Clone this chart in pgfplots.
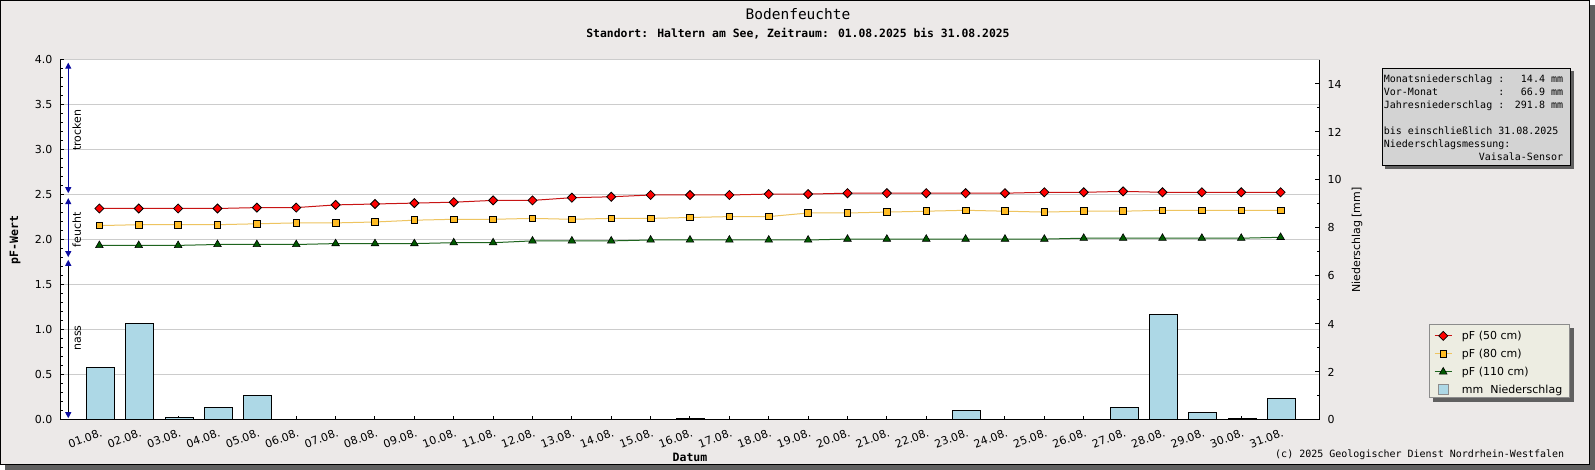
\documentclass[border=0pt]{standalone}
\usepackage{fontspec}
\setmainfont{DejaVu Sans}
\newfontfamily\mono{DejaVu Sans Mono}
\usepackage{pgfplots}
\usepackage{pgfplotstable}
\pgfplotsset{compat=1.18}
\usetikzlibrary{arrows.meta}
\definecolor{bg}{RGB}{236,233,232}
\definecolor{shadowgray}{RGB}{96,96,96}
\definecolor{gridgray}{RGB}{204,204,204}
\definecolor{infobg}{RGB}{211,211,211}
\definecolor{legbg}{RGB}{237,237,226}
\definecolor{legborder}{RGB}{140,140,140}
\definecolor{barblue}{RGB}{173,216,230}
\definecolor{redline}{RGB}{200,20,20}
\definecolor{redmark}{RGB}{255,0,0}
\definecolor{yelline}{RGB}{238,196,96}
\definecolor{yelmark}{RGB}{255,188,36}
\definecolor{grnline}{RGB}{30,100,30}
\definecolor{grnmark}{RGB}{0,90,0}
\definecolor{navyarrow}{RGB}{10,10,160}

\pgfplotstableread{
day p50 p80 p110
1 2.35 2.16 1.94
2 2.35 2.17 1.94
3 2.35 2.17 1.94
4 2.35 2.17 1.95
5 2.36 2.18 1.95
6 2.36 2.19 1.95
7 2.39 2.19 1.96
8 2.40 2.20 1.96
9 2.41 2.22 1.96
10 2.42 2.23 1.97
11 2.44 2.23 1.97
12 2.44 2.24 1.99
13 2.47 2.23 1.99
14 2.48 2.24 1.99
15 2.50 2.24 2.00
16 2.50 2.25 2.00
17 2.50 2.26 2.00
18 2.51 2.26 2.00
19 2.51 2.30 2.00
20 2.52 2.30 2.01
21 2.52 2.31 2.01
22 2.52 2.32 2.01
23 2.52 2.33 2.01
24 2.52 2.32 2.01
25 2.53 2.31 2.01
26 2.53 2.32 2.02
27 2.54 2.32 2.02
28 2.53 2.33 2.02
29 2.53 2.33 2.02
30 2.53 2.33 2.02
31 2.53 2.33 2.03
}\pfdata

\pgfplotstableread{
day mm
1 2.2
2 4.0
3 0.1
4 0.5
5 1.0
16 0.05
23 0.4
27 0.5
28 4.4
29 0.3
30 0.05
31 0.9
}\raindata

\newcommand{\tfont}{\fontsize{11}{13}\selectfont}

\begin{document}
\begin{tikzpicture}
\useasboundingbox (0pt,0pt) rectangle (1595pt,470pt);
\fill[shadowgray] (5pt,0pt) rectangle (1595pt,465pt);
\draw[fill=bg, draw=black, line width=1pt] (0.5pt,5.5pt) rectangle (1589.5pt,469.5pt);

\node[anchor=base, inner sep=0pt, font=\mono\fontsize{14.5}{16}\selectfont] at (798pt,450.7pt) {Bodenfeuchte};
\node[anchor=base, inner sep=0pt, font=\mono\bfseries\fontsize{11.4}{13}\selectfont] at (798pt,432.7pt) {Standort: Haltern am See, Zeitraum: 01.08.2025 bis 31.08.2025};

% legend box
\fill[shadowgray] (1433.3pt,67.7pt) rectangle (1574pt,141.7pt);
\draw[fill=legbg, draw=legborder, line width=1pt] (1429.8pt,72.2pt) rectangle (1569.5pt,145.2pt);

\begin{axis}[
  at={(60pt,50pt)}, anchor=south west,
  scale only axis, width=1260pt, height=360pt,
  xmin=0, xmax=32, ymin=0, ymax=4,
  axis x line*=bottom, axis y line*=left,
  axis line style={-, black, line width=1pt},
  axis background/.style={fill=white},
  tick align=inside,
  tick style={black, line width=1pt},
  major tick length=4pt, minor tick length=2.5pt,
  xtick={1,...,31},
  xticklabels={01.08.,02.08.,03.08.,04.08.,05.08.,06.08.,07.08.,08.08.,09.08.,10.08.,11.08.,12.08.,13.08.,14.08.,15.08.,16.08.,17.08.,18.08.,19.08.,20.08.,21.08.,22.08.,23.08.,24.08.,25.08.,26.08.,27.08.,28.08.,29.08.,30.08.,31.08.},
  xticklabel style={rotate=20, anchor=north east, yshift=-6pt, inner sep=2pt, font=\tfont},
  ytick={0,0.5,...,4},
  minor y tick num=4,
  ymajorgrids,
  major grid style={gridgray, line width=1pt},
  yticklabel style={font=\tfont, xshift=-4pt, /pgf/number format/fixed, /pgf/number format/fixed zerofill, /pgf/number format/precision=1, /pgf/number format/assume math mode=true},
  xlabel={Datum}, ylabel={pF-Wert},
  every axis x label/.style={at={(axis description cs:0.5,-0.1028)}, anchor=center, font=\mono\bfseries\fontsize{11.5}{13}\selectfont},
  every axis y label/.style={at={(axis description cs:-0.0357,0.5)}, rotate=90, anchor=center, font=\mono\bfseries\fontsize{11.5}{13}\selectfont},
  clip=false,
]
\addplot[redline, line width=1pt, mark=square*, mark size=3.2pt, mark options={rotate=45, fill=redmark, draw=black, line width=0.8pt}] table[x=day,y=p50] {\pfdata};
\addplot[yelline, line width=1pt, mark=square*, mark size=3.3pt, mark options={fill=yelmark, draw=black, line width=0.8pt}] table[x=day,y=p80] {\pfdata};
\addplot[grnline, line width=1pt, mark=triangle*, mark size=4.4pt, mark options={fill=grnmark, draw=black, line width=0.6pt}] table[x=day,y=p110] {\pfdata};

\draw[navyarrow, line width=1pt, {Triangle[width=6pt,length=6pt]}-{Triangle[width=6pt,length=6pt]}] (axis cs:0.21,3.97) -- (axis cs:0.21,2.52);
\draw[navyarrow, line width=1pt, {Triangle[width=6pt,length=6pt]}-{Triangle[width=6pt,length=6pt]}] (axis cs:0.21,2.465) -- (axis cs:0.21,1.81);
\draw[black, line width=1pt, {Triangle[width=6pt,length=6pt,color=navyarrow]}-{Triangle[width=6pt,length=6pt,color=navyarrow]}] (axis cs:0.21,1.78) -- (axis cs:0.21,0.02);
\node[rotate=90, anchor=base, inner sep=0pt, font=\tfont] at (axis cs:0.533,3.22) {trocken};
\node[rotate=90, anchor=base, inner sep=0pt, font=\tfont] at (axis cs:0.533,2.11) {feucht};
\node[rotate=90, anchor=base, inner sep=0pt, font=\tfont] at (axis cs:0.533,0.91) {nass};
\end{axis}

\begin{axis}[
  at={(60pt,50pt)}, anchor=south west,
  scale only axis, width=1260pt, height=360pt,
  xmin=0, xmax=32, ymin=0, ymax=15,
  axis x line=none, axis y line*=right,
  axis line style={-, black, line width=1pt},
  tick align=inside, tick style={black, line width=1pt},
  ytick={0,2,...,14}, minor ytick={1,3,...,13},
  major tick length=5pt, minor tick length=3pt,
  yticklabel style={font=\tfont, xshift=4pt, /pgf/number format/assume math mode=true},
  ylabel={Niederschlag [mm]},
  every axis y label/.style={at={(axis description cs:1.0294,0.5)}, rotate=90, anchor=center, font=\fontsize{11}{13}\selectfont},
  legend cell align=left,
  legend style={at={(axis description cs:1.0905,0.2592)}, anchor=north west, draw=none, fill=none, inner sep=0pt, row sep=0pt, column sep=9.7pt, font=\fontsize{11}{13}\selectfont, nodes={inner sep=0pt, text height=13pt, text depth=5pt}},
]
\addlegendimage{redline, line width=1pt, mark=square*, mark size=3.2pt, mark options={rotate=45, fill=redmark, draw=black, line width=0.8pt}}
\addlegendentry{pF (50 cm)}
\addlegendimage{yelline, line width=1pt, mark=square*, mark size=3.3pt, mark options={fill=yelmark, draw=black, line width=0.8pt}}
\addlegendentry{pF (80 cm)}
\addlegendimage{grnline, line width=1pt, mark=triangle*, mark size=4.4pt, mark options={fill=grnmark, draw=black, line width=0.6pt}}
\addlegendentry{pF (110 cm)}
\addplot[ybar, bar width=28pt, bar shift=1pt, fill=barblue, draw=black, line width=1pt, legend image code/.code={\draw[fill=barblue, draw=legborder, line width=1pt] (3.5pt,-5pt) rectangle (13.5pt,5pt);}] table[x=day,y=mm] {\raindata};
\addlegendentry{mm~~Niederschlag}
\end{axis}

% info box
\fill[shadowgray] (1384.7pt,301.3pt) rectangle (1573.7pt,398.7pt);
\draw[fill=infobg, draw=black, line width=1pt] (1382.2pt,304.8pt) rectangle (1570.2pt,401.2pt);
\begin{scope}[every node/.style={inner sep=0pt, font=\mono\fontsize{10}{12}\selectfont}]
\node[anchor=base west] at (1383.7pt,387.3pt) {Monatsniederschlag};
\node[anchor=base west] at (1498.1pt,387.3pt) {:};
\node[anchor=base east] at (1563.3pt,387.3pt) {14.4 mm};
\node[anchor=base west] at (1383.7pt,374.3pt) {Vor-Monat};
\node[anchor=base west] at (1498.1pt,374.3pt) {:};
\node[anchor=base east] at (1563.3pt,374.3pt) {66.9 mm};
\node[anchor=base west] at (1383.7pt,361.3pt) {Jahresniederschlag};
\node[anchor=base west] at (1498.1pt,361.3pt) {:};
\node[anchor=base east] at (1563.3pt,361.3pt) {291.8 mm};
\node[anchor=base west] at (1383.7pt,335.3pt) {bis einschließlich 31.08.2025};
\node[anchor=base west] at (1383.7pt,322.3pt) {Niederschlagsmessung:};
\node[anchor=base east] at (1563.3pt,309.3pt) {Vaisala-Sensor};
\node[anchor=base west] at (1275pt,12.5pt) {(c) 2025 Geologischer Dienst Nordrhein-Westfalen};
\end{scope}
\end{tikzpicture}
\end{document}
